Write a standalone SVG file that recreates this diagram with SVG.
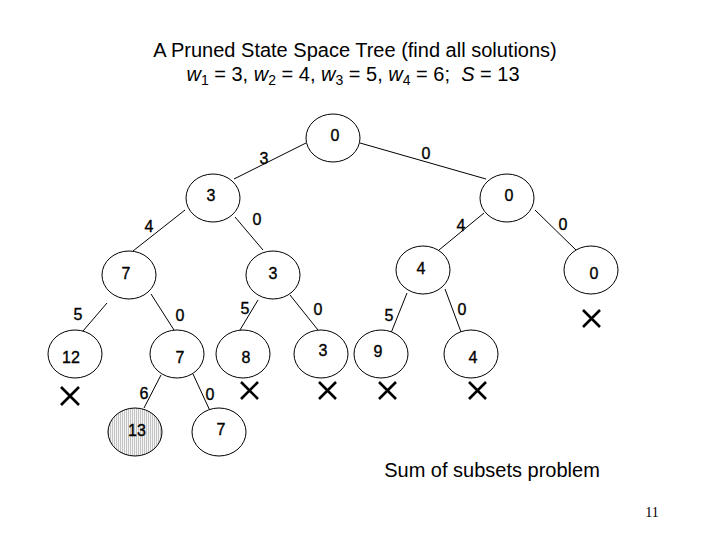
<svg xmlns="http://www.w3.org/2000/svg" width="720" height="540" viewBox="0 0 720 540">
<defs>
<pattern id="hatch" width="2" height="4" patternUnits="userSpaceOnUse">
<rect width="2" height="4" fill="#f4f4f4"/>
<rect width="1" height="4" fill="#c4c4c4"/>
</pattern>
</defs>
<style>
.n ellipse{fill:#fff;stroke:#000;stroke-width:1}
.t{font-family:"Liberation Sans",Arial,sans-serif;font-size:16px;fill:#000;stroke:#000;stroke-width:0.35;text-anchor:middle}
.ttl{font-family:"Liberation Sans",Arial,sans-serif;font-size:20px;fill:#000;text-anchor:middle}
.e line{stroke:#000;stroke-width:1}
.x path{stroke:#000;stroke-width:2.6;fill:none}
</style>
<rect width="720" height="540" fill="#fff"/>
<text class="ttl" x="355" y="57">A Pruned State Space Tree (find all solutions)</text>
<text class="ttl" x="353" y="81"><tspan font-style="italic">w</tspan><tspan font-size="14" dy="4">1</tspan><tspan dy="-4"> = 3, </tspan><tspan font-style="italic">w</tspan><tspan font-size="14" dy="4">2</tspan><tspan dy="-4"> = 4, </tspan><tspan font-style="italic">w</tspan><tspan font-size="14" dy="4">3</tspan><tspan dy="-4"> = 5, </tspan><tspan font-style="italic">w</tspan><tspan font-size="14" dy="4">4</tspan><tspan dy="-4"> = 6;&#160; </tspan><tspan font-style="italic">S</tspan><tspan> = 13</tspan></text>

<g id="connectors" class="e">
<line x1="306" y1="143" x2="234" y2="179"/>
<line x1="360" y1="143" x2="486" y2="179"/>
<line x1="185" y1="210" x2="133" y2="251"/>
<line x1="235" y1="217" x2="263" y2="250"/>
<line x1="484" y1="213" x2="439" y2="250"/>
<line x1="535" y1="210" x2="576" y2="250"/>
<line x1="107" y1="303" x2="83" y2="331"/>
<line x1="151" y1="294" x2="174" y2="330"/>
<line x1="258" y1="300" x2="240" y2="330"/>
<line x1="290" y1="295" x2="318" y2="330"/>
<line x1="407" y1="293" x2="391" y2="333"/>
<line x1="445" y1="289" x2="461" y2="332"/>
<line x1="161" y1="375" x2="144" y2="408"/>
<line x1="193" y1="374" x2="211" y2="413"/>
</g>
<g id="edge-labels">
<text class="t" x="264" y="164">3</text>
<text class="t" x="426" y="159">0</text>
<text class="t" x="149" y="232">4</text>
<text class="t" x="257" y="225">0</text>
<text class="t" x="461" y="231">4</text>
<text class="t" x="563" y="230">0</text>
<text class="t" x="78" y="320">5</text>
<text class="t" x="180" y="321">0</text>
<text class="t" x="245" y="314">5</text>
<text class="t" x="318" y="315">0</text>
<text class="t" x="389" y="321">5</text>
<text class="t" x="462" y="315">0</text>
<text class="t" x="144" y="399">6</text>
<text class="t" x="210" y="400">0</text>
</g>

<g id="n-root" class="n"><ellipse cx="333" cy="138" rx="27" ry="24"/><text class="t" x="335" y="141">0</text></g>
<g id="n-3" class="n"><ellipse cx="213" cy="198" rx="27" ry="24"/><text class="t" x="211" y="201">3</text></g>
<g id="n-0" class="n"><ellipse cx="507" cy="198" rx="27" ry="24"/><text class="t" x="509" y="201">0</text></g>
<g id="n-7" class="n"><ellipse cx="129" cy="275" rx="27" ry="24"/><text class="t" x="126" y="279">7</text></g>
<g id="n-3b" class="n"><ellipse cx="273" cy="275" rx="27" ry="24"/><text class="t" x="273" y="279">3</text></g>
<g id="n-4" class="n"><ellipse cx="423" cy="270" rx="27" ry="24"/><text class="t" x="421" y="274">4</text></g>
<g id="n-0b" class="n"><ellipse cx="591" cy="270" rx="27" ry="24"/><text class="t" x="594" y="279">0</text></g>
<g id="n-12" class="n"><ellipse cx="75" cy="354" rx="27" ry="24"/><text class="t" x="71" y="363">12</text></g>
<g id="n-7b" class="n"><ellipse cx="177" cy="354" rx="27" ry="24"/><text class="t" x="180" y="363">7</text></g>
<g id="n-8" class="n"><ellipse cx="243" cy="354" rx="27" ry="24"/><text class="t" x="246" y="363">8</text></g>
<g id="n-3c" class="n"><ellipse cx="321" cy="354" rx="27" ry="24"/><text class="t" x="323" y="356">3</text></g>
<g id="n-9" class="n"><ellipse cx="381" cy="354" rx="27" ry="24"/><text class="t" x="378" y="357">9</text></g>
<g id="n-4b" class="n"><ellipse cx="471" cy="354" rx="27" ry="24"/><text class="t" x="473" y="363">4</text></g>
<g id="n-13" class="n"><ellipse cx="135" cy="432" rx="27" ry="24" style="fill:url(#hatch)"/><text class="t" x="137" y="436">13</text></g>
<g id="n-7c" class="n"><ellipse cx="219" cy="432" rx="27" ry="24"/><text class="t" x="221" y="435">7</text></g>

<g id="crosses" class="x">
<path d="M583 310 L600 327 M600 310 L583 327"/>
<path d="M61 387 L79 405 M79 387 L61 405"/>
<path d="M241 382 L258 399 M258 382 L241 399"/>
<path d="M319 382 L336 399 M336 382 L319 399"/>
<path d="M379 382 L396 399 M396 382 L379 399"/>
<path d="M469 382 L486 399 M486 382 L469 399"/>
</g>

<text class="ttl" x="492" y="477">Sum of subsets problem</text>
<text x="652" y="517" font-family="'Liberation Serif','Times New Roman',serif" font-size="14" text-anchor="middle">11</text>
</svg>
